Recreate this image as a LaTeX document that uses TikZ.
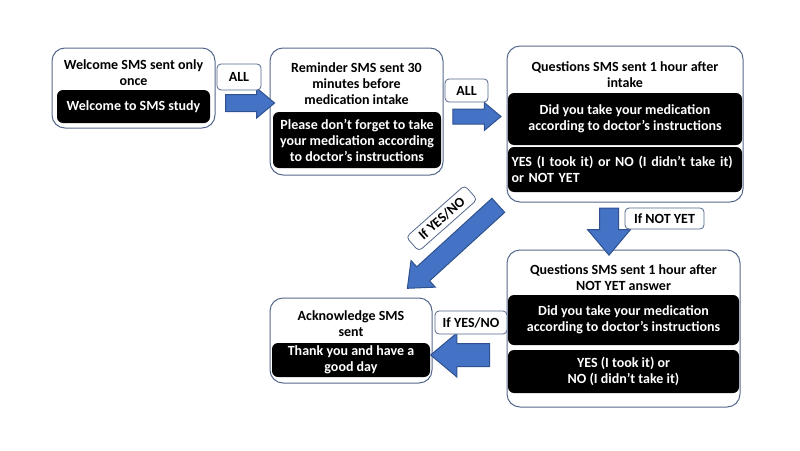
\documentclass[tikz,border=0pt]{standalone}
\usepackage{fontspec}
\setmainfont{Carlito}
\usetikzlibrary{shapes.arrows,calc}
\definecolor{arrowblue}{HTML}{4472C4}
\definecolor{arrowedge}{HTML}{2F528F}
\definecolor{boxline}{RGB}{84,104,140}

\begin{document}
\begin{tikzpicture}[x=1pt, y=-1pt,
  every node/.style={font=\bfseries\fontsize{14}{16}\selectfont},
  smsbox/.style={draw=boxline, line width=1pt, rounded corners=13pt},
  msgbox/.style={fill=black, text=white, rounded corners=6pt, align=center, inner sep=2pt},
  titletext/.style={align=center, inner sep=0pt},
  tagbox/.style={draw=boxline, line width=0.8pt, fill=white, rounded corners=4pt, inner sep=2pt},
  fatarrow/.style 2 args={to path={
    let \p1=($(\tikztotarget)-(\tikztostart)$), \n1={veclen(\x1,\y1)}, \n2={atan2(\y1,\x1)} in
    node[single arrow, draw=arrowedge, fill=arrowblue, line width=1pt, inner xsep=0pt,
      inner ysep=#1/2, minimum width=#2, single arrow head extend=(#2-#1)/2,
      single arrow tip angle=80, minimum height=\n1, rotate=\n2]
      at ($(\tikztostart)!0.5!(\tikztotarget)$) {}}}]
\useasboundingbox (0,0) rectangle (800,450);
% SMS boxes
\node[smsbox, minimum width=163, minimum height=80] (welcome) at (133.5,88) {};
\node[titletext] (welcometitle) at (133.5,73) {Welcome SMS sent only\\once};
\node[msgbox, minimum width=153, minimum height=33] (welcomemsg) at (133.5,106.5) {Welcome to SMS study};

\node[smsbox, minimum width=173, minimum height=127] (remind) at (356.5,111.5) {};
\node[titletext] (remindtitle) at (356.5,84) {Reminder SMS sent 30\\minutes before\\medication intake};
\node[msgbox, minimum width=168, minimum height=56] (remindmsg) at (357,140) {Please don’t forget to take\\your medication according\\to doctor’s instructions};

\node[smsbox, minimum width=236, minimum height=156] (ask) at (625,124) {};
\node[titletext] (asktitle) at (625,75) {Questions SMS sent 1 hour after\\intake};
\node[msgbox, minimum width=234, minimum height=52] (askq) at (625,119) {Did you take your medication\\according to doctor’s instructions};
\node[msgbox, align=left, text width=227, inner xsep=3.5pt, minimum height=45] (aska) at (625,169.5) {YES (I took it) or NO (I didn’t take it)\\or NOT YET};

\node[smsbox, minimum width=233, minimum height=157] (again) at (623.5,328.5) {};
\node[titletext] (againtitle) at (623.5,278) {Questions SMS sent 1 hour after\\NOT YET answer};
\node[msgbox, minimum width=231, minimum height=50] (againq) at (623.5,320) {Did you take your medication\\according to doctor’s instructions};
\node[msgbox, minimum width=231, minimum height=43] (againa) at (623.5,371.5) {YES (I took it) or\\NO (I didn’t take it)};

\node[smsbox, minimum width=162, minimum height=85] (ack) at (351,340.5) {};
\node[titletext] (acktitle) at (351,324) {Acknowledge SMS\\sent};
\node[msgbox, minimum width=158, minimum height=34] (ackmsg) at (351,360) {Thank you and have a\\good day};

% Block arrows
\coordinate (a1) at ([shift={(5,15)}]welcome.east);
\coordinate (a1e) at (a1 -| remind.west);
\draw[fatarrow={16}{29}] (a1) to (a1e);
\coordinate (a2) at ([shift={(5,5)}]remind.east);
\coordinate (a2e) at ($(a2 -| ask.west)+(-10,0)$);
\draw[fatarrow={14}{27}] (a2) to (a2e);
\coordinate (a3) at ([xshift=-16pt]ask.south);
\coordinate (a3e) at (a3 |- again.north);
\draw[fatarrow={18}{42}] (a3) to (a3e);
\coordinate (a4) at ([shift={(-10,26.5)}]again.west);
\coordinate (a4e) at ($(a4 -| ack.east)+(5,0)$);
\draw[fatarrow={22}{43}] (a4) to (a4e);
\coordinate (a5) at ([shift={(-4,-1)}]ask.south west);
\coordinate (a5e) at ([shift={(-21,-13)}]ack.north east);
\draw[fatarrow={18}{35}] (a5) to (a5e);

% Tags
\node[tagbox, minimum width=44, minimum height=26] (all1) at (239,77) {ALL};
\node[tagbox, minimum width=43, minimum height=23] (all2) at (466.5,90.5) {ALL};
\node[tagbox, minimum width=79, minimum height=21] (notyet) at (664.5,218.5) {If NOT YET};
\node[tagbox, minimum width=78, minimum height=19, rotate=41.5] (yesno1) at (441.7,218.3) {If YES/NO};
\node[tagbox, minimum width=72, minimum height=23] (yesno2) at (471,322.5) {If YES/NO};
\end{tikzpicture}
\end{document}
